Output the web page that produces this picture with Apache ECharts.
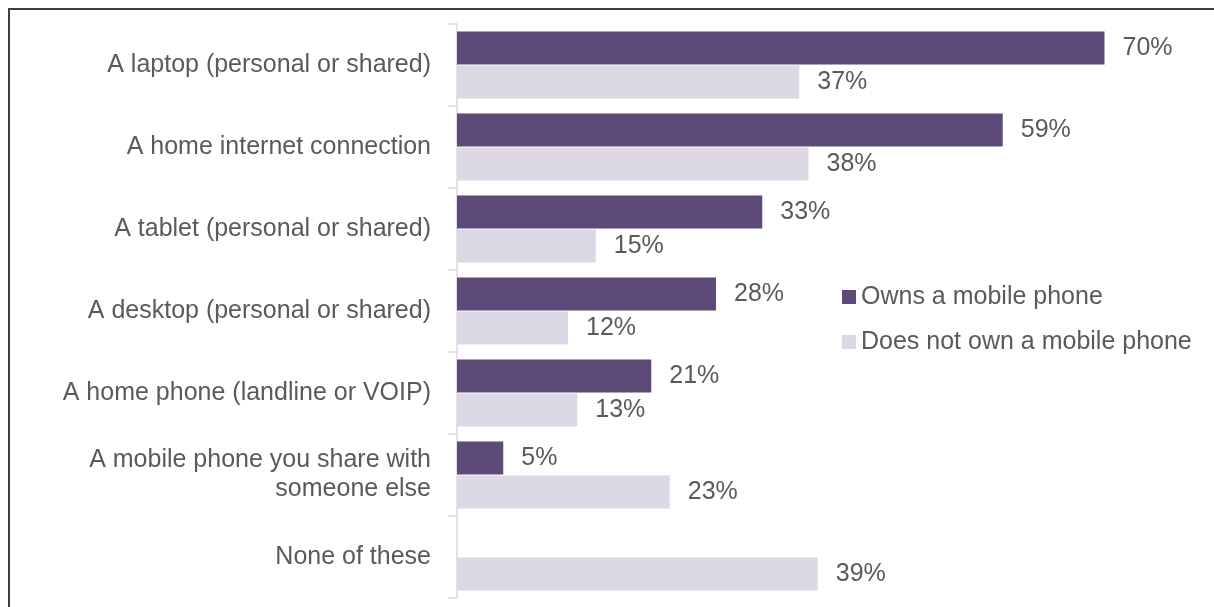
<!DOCTYPE html>
<html>
<head>
<meta charset="utf-8">
<style>
  html, body { margin: 0; padding: 0; background: #ffffff; }
  #chart { width: 1214px; height: 607px; }
</style>
<script src="https://cdn.jsdelivr.net/npm/echarts@6/dist/echarts.min.js"></script>
</head>
<body>
<div id="chart"></div>
<script>
// Devices and services available, by mobile phone ownership (%)
const categories = [
  'A laptop (personal or shared)',
  'A home internet connection',
  'A tablet (personal or shared)',
  'A desktop (personal or shared)',
  'A home phone (landline or VOIP)',
  'A mobile phone you share with\nsomeone else',
  'None of these'
];
const ownsPhone = [70, 59, 33, 28, 21, 5, null];
const noPhone = [37, 38, 15, 12, 13, 23, 39];
const seriesNames = ['Owns a mobile phone', 'Does not own a mobile phone'];

const FONT = '"Liberation Sans", Arial, sans-serif';
const TEXT = '#5a5a5a';

const chart = echarts.init(document.getElementById('chart'), null, { renderer: 'canvas' });

const valueLabel = {
  show: true,
  position: 'right',
  distance: 18,
  fontFamily: FONT,
  fontSize: 25,
  color: TEXT,
  formatter: p => (p.value == null ? '' : p.value + '%')
};

chart.setOption({
  animation: false,
  backgroundColor: '#ffffff',
  graphic: [{
    type: 'rect',
    shape: { x: 9, y: 9, width: 1400, height: 800 },
    style: { fill: 'none', stroke: '#3f3f3f', lineWidth: 2 },
    silent: true,
    z: -10
  }],
  legend: {
    orient: 'vertical',
    left: 837,
    top: 279,
    icon: 'rect',
    itemWidth: 14,
    itemHeight: 14,
    itemGap: 19,
    data: seriesNames,
    textStyle: { fontFamily: FONT, fontSize: 25, color: TEXT, lineHeight: 26 }
  },
  grid: { left: 457, right: 17, top: 24, bottom: 9, containLabel: false },
  xAxis: {
    type: 'value',
    min: 0,
    max: 80,
    show: false
  },
  yAxis: {
    type: 'category',
    inverse: true,
    data: categories,
    axisLine: { show: true, lineStyle: { color: '#e3e3e3', width: 2 } },
    axisTick: { show: true, length: 9, lineStyle: { color: '#e3e3e3', width: 2 } },
    axisLabel: {
      margin: 26,
      fontFamily: FONT,
      fontSize: 25,
      color: TEXT,
      lineHeight: 29,
      align: 'right'
    }
  },
  series: [
    {
      name: seriesNames[0],
      type: 'bar',
      data: ownsPhone,
      barWidth: 33,
      barGap: '3%',
      itemStyle: { color: '#5d4a78' },
      label: valueLabel
    },
    {
      name: seriesNames[1],
      type: 'bar',
      data: noPhone,
      barWidth: 33,
      itemStyle: { color: '#ddd8e6' },
      label: valueLabel
    }
  ]
});
</script>
</body>
</html>
